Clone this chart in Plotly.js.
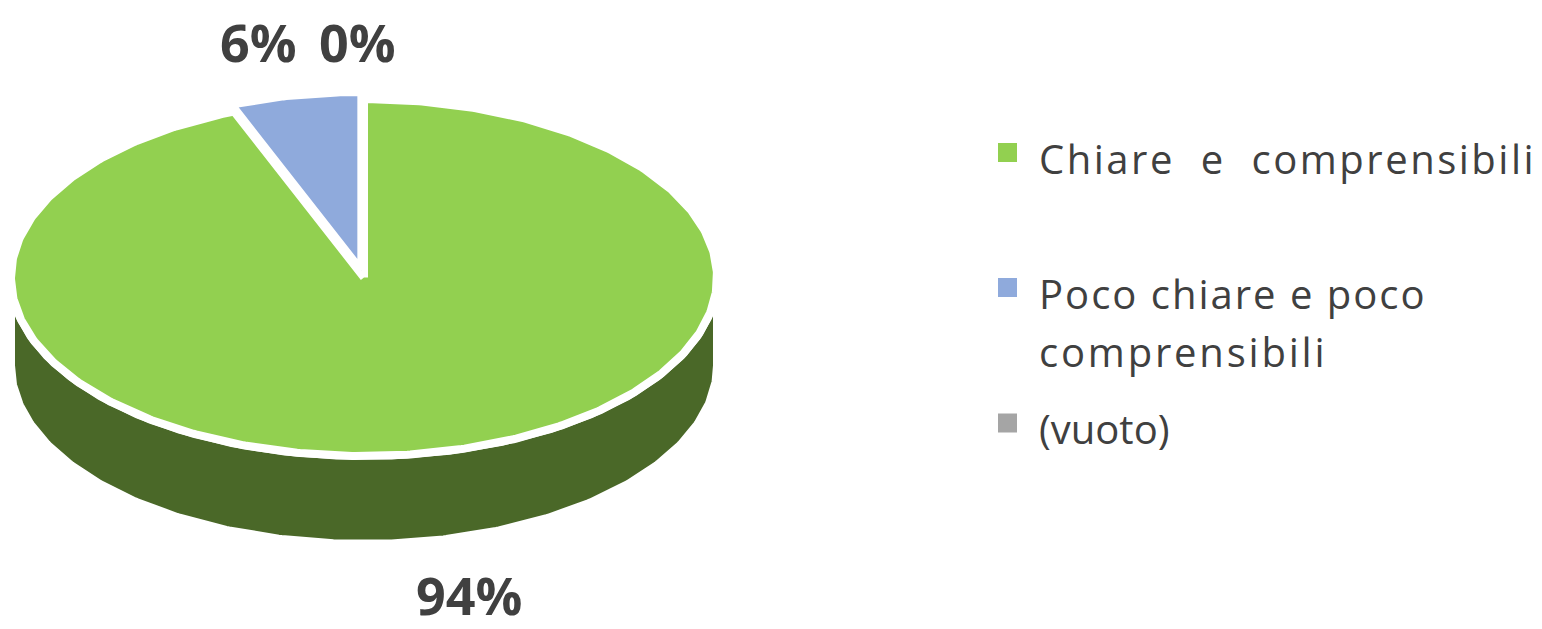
<!DOCTYPE html>
<html>
<head>
<meta charset="utf-8">
<script src="https://cdn.plot.ly/plotly-3.0.1.min.js"></script>
<style>
  html, body { margin: 0; padding: 0; background: #ffffff; }
  #chart { width: 1542px; height: 629px; }
</style>
</head>
<body>
<div id="chart"></div>
<script>
// ---- data ----
const categories = ["Chiare e comprensibili", "Poco chiare e poco comprensibili", "(vuoto)"];
const values = [94, 6, 0];
const pctLabels = ["94%", "6%", "0%"];
const legendLines = [["Chiare e comprensibili"], ["Poco chiare e poco", "comprensibili"], ["(vuoto)"]];
const topColors = ["#92D050", "#8FAADC", "#A5A5A5"];
const sideColors = ["#4A6828", "#55688A", "#626262"];
const explode = [0, 0.04, 0];

// ---- geometry of the tilted pie (pixel-like axis units) ----
const CX = 364, CY = 277.5, RX = 353, RY = 178.5, DEPTH = 88, STROKE = 8;
const TEXT = "#404040";

function pt(deg, dx, dy, down) {
  const r = deg * Math.PI / 180;
  return [CX + RX * Math.sin(r) + dx, CY - RY * Math.cos(r) + dy + (down || 0)];
}

const total = values.reduce((a, b) => a + b, 0);
const sideTraces = [], topTraces = [];
let start = 0;
values.forEach((v, i) => {
  const sweep = v / total * 360;
  const end = start + sweep;
  if (sweep > 0) {
    const mid = (start + end) / 2 * Math.PI / 180;
    const dx = RX * Math.sin(mid) * explode[i];
    const dy = -RY * Math.cos(mid) * explode[i];
    // top face
    const xs = [], ys = [];
    const c = [CX + dx, CY + dy];
    if (sweep < 360) { xs.push(c[0]); ys.push(c[1]); }
    const n = Math.max(4, Math.ceil(sweep * 2));
    for (let k = 0; k <= n; k++) {
      const p = pt(start + sweep * k / n, dx, dy);
      xs.push(p[0]); ys.push(p[1]);
    }
    if (sweep < 360) { xs.push(c[0]); ys.push(c[1]); }
    topTraces.push({
      type: "scatter", mode: "lines", x: xs, y: ys, fill: "toself",
      fillcolor: topColors[i], line: { color: "#ffffff", width: STROKE },
      hoverinfo: "skip", showlegend: false, name: categories[i]
    });
    // front side wall (visible part: 90..270 degrees)
    const a0 = Math.max(start, 90), a1 = Math.min(end, 270);
    if (a1 > a0) {
      const sx = [], sy = [];
      const m = Math.max(4, Math.ceil((a1 - a0) * 2));
      for (let k = 0; k <= m; k++) {
        const p = pt(a0 + (a1 - a0) * k / m, dx, dy);
        sx.push(p[0]); sy.push(p[1]);
      }
      for (let k = m; k >= 0; k--) {
        const p = pt(a0 + (a1 - a0) * k / m, dx, dy, DEPTH);
        sx.push(p[0]); sy.push(p[1]);
      }
      sx.push(sx[0]); sy.push(sy[0]);
      sideTraces.push({
        type: "scatter", mode: "lines", x: sx, y: sy, fill: "toself",
        fillcolor: sideColors[i], line: { color: "#ffffff", width: STROKE },
        hoverinfo: "skip", showlegend: false, name: categories[i] + " side"
      });
    }
  }
  start = end;
});

// ---- text: percentage labels ----
const pctPos = [[469, 594], [258, 41], [357, 41]];
const annotations = pctLabels.map((t, i) => ({
  x: pctPos[i][0], y: pctPos[i][1], xref: "x", yref: "y", text: "<b>" + t + "</b>",
  showarrow: false, xanchor: "center", yanchor: "middle",
  font: { family: "Open Sans, sans-serif", size: 52, color: TEXT }
}));
const spacing = [null, null, null];

// ---- legend (squares + text) ----
const legendSquareY = [152.5, 287.5, 423];
const legendLineY = [[158], [293, 351], [428]];
const legendSpacing = [[[2.5, 13]], [[2, 0], [2.8, 0]], [[0, 0]]];
const shapes = [];
categories.forEach((c, i) => {
  shapes.push({
    type: "rect", xref: "x", yref: "y",
    x0: 998, x1: 1017, y0: legendSquareY[i] - 9.5, y1: legendSquareY[i] + 9.5,
    fillcolor: topColors[i], line: { width: 0 }
  });
  legendLines[i].forEach((line, j) => {
    annotations.push({
      x: 1037, y: legendLineY[i][j], xref: "x", yref: "y", text: line,
      showarrow: false, xanchor: "left", yanchor: "middle",
      font: { family: "Open Sans, sans-serif", size: 40, color: TEXT }
    });
    spacing.push(legendSpacing[i][j]);
  });
});

const layout = {
  width: 1542, height: 629,
  margin: { l: 0, r: 0, t: 0, b: 0, pad: 0 },
  paper_bgcolor: "#ffffff", plot_bgcolor: "#ffffff",
  xaxis: { range: [0, 1542], visible: false, fixedrange: true },
  yaxis: { range: [629, 0], visible: false, fixedrange: true },
  showlegend: false,
  annotations: annotations,
  shapes: shapes
};

Plotly.newPlot("chart", sideTraces.concat(topTraces), layout, { staticPlot: true, displayModeBar: false })
  .then(gd => {
    spacing.forEach((s, idx) => {
      if (!s || (!s[0] && !s[1])) return;
      const t = gd.querySelector('.annotation[data-index="' + idx + '"] .annotation-text');
      if (!t) return;
      const before = t.getBBox().x;
      t.style.letterSpacing = s[0] + "px";
      t.style.wordSpacing = s[1] + "px";
      const after = t.getBBox().x;
      const prev = t.getAttribute("transform") || "";
      t.setAttribute("transform", prev + " translate(" + (before - after) + ",0)");
    });
  });
</script>
</body>
</html>
